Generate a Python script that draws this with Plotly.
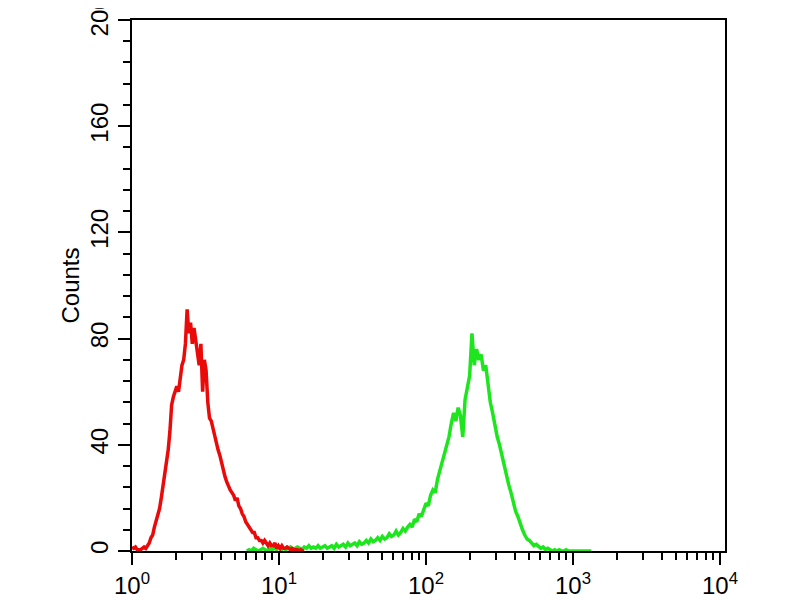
import plotly.graph_objects as go

# Channel numbers (1024-channel, 4-decade log scale: 256 channels per decade)
red_channels = list(range(0, 301, 3))
red_counts = [
    1.5, 1, 1.5, 0.5, 0.5, 0.5, 1, 1.5, 1, 2,
    3, 5, 6, 9, 11, 14, 16, 20, 24, 28,
    32, 38, 45, 55, 58, 60, 62, 60, 66, 70,
    72, 78, 91, 82, 86, 78, 84, 80, 74, 70,
    78, 60, 72, 68, 56, 50, 49, 46, 44, 40,
    38, 36, 33, 30, 28, 26, 24, 23, 22, 21,
    19, 20, 17, 16, 14, 13, 11, 10, 9, 8,
    7, 7, 5, 5, 4, 4, 3, 4, 3, 2,
    3, 2, 2, 3, 1, 2, 1, 2, 1, 1,
    1.5, 1, 0.5, 1, 0.5, 0.5, 0.5, 0, 0.5, 0,
    0,
]

green_channels = list(range(200, 801, 4))
green_counts = [
    0, 0.5, 0, 1, 0.5, 0, 0.5, 1, 0.5, 0,
    1, 0.5, 1, 0.5, 1.5, 0.5, 1, 0.5, 1, 1.5,
    0.5, 1, 1.5, 1, 0.5, 1.5, 1, 2, 1, 1.5,
    1, 2, 1, 1.5, 2, 1, 1.5, 2, 1, 2.5,
    1.5, 2, 2.5, 1.5, 3, 2, 2.5, 3, 2, 3.5,
    2.5, 3, 4, 3, 4.5, 3.5, 4, 5, 4, 5.5,
    4.5, 5, 6.5, 5.5, 6, 7.5, 6, 7, 8.5, 7.5,
    9, 10, 9, 12, 11, 14, 13, 16, 18, 17,
    21, 23, 22, 27, 30, 33, 36, 40, 43, 48,
    52, 49, 54, 51, 43, 57, 62, 66, 82, 70,
    76, 72, 74, 68, 70, 62, 56, 52, 47, 43,
    40, 36, 32, 29, 25, 22, 18, 15, 13, 10,
    8, 6, 4.5, 4, 3, 2, 2.5, 1.5, 1, 1.5,
    0.5, 1, 0.5, 0, 0.5, 0, 0.5, 0, 0, 0.5,
    0, 0, 0, 0, 0, 0, 0, 0, 0, 0,
    0,
]

x_major = [1, 10, 100, 1000, 10000]
x_major_text = ["10<sup>0</sup>", "10<sup>1</sup>", "10<sup>2</sup>", "10<sup>3</sup>", "10<sup>4</sup>"]
x_minor = [m * d for d in [1, 10, 100, 1000] for m in range(2, 10)]
y_major = [0, 40, 80, 120, 160, 200]

CH_PER_DECADE = 256.0
red_x = [10 ** (c / CH_PER_DECADE) for c in red_channels]
green_x = [10 ** (c / CH_PER_DECADE) for c in green_channels]

fig = go.Figure()
fig.add_trace(go.Scatter(x=green_x, y=green_counts, mode="lines",
                         line=dict(color="rgb(30,230,30)", width=3.5), showlegend=False))
fig.add_trace(go.Scatter(x=red_x, y=red_counts, mode="lines",
                         line=dict(color="rgb(235,10,10)", width=3.5), showlegend=False))

font = dict(family="Liberation Sans, Arial, sans-serif", size=24, color="black")

fig.update_layout(
    width=792, height=592,
    margin=dict(l=124, r=75, t=12, b=49),
    paper_bgcolor="white", plot_bgcolor="white",
    font=font,
    xaxis=dict(
        type="log", range=[0, 4.034], automargin=False,
        tickmode="array", tickvals=x_major, ticktext=x_major_text,
        ticks="outside", ticklen=12, tickwidth=2, tickcolor="black",
        ticklabeloverflow="allow",
        minor=dict(tickmode="array", tickvals=x_minor, ticks="outside",
                   ticklen=7, tickwidth=2, tickcolor="black", showgrid=False),
        showline=True, linewidth=2, linecolor="black", mirror=True,
        showgrid=False, zeroline=False, tickfont=font,
    ),
    yaxis=dict(
        range=[0, 200], automargin=False,
        tickmode="array", tickvals=y_major, tickangle=-90,
        ticks="outside", ticklen=12, tickwidth=2, tickcolor="black",
        ticklabeloverflow="allow",
        minor=dict(tickmode="linear", tick0=0, dtick=8, ticks="outside",
                   ticklen=7, tickwidth=2, tickcolor="black", showgrid=False),
        showline=True, linewidth=2, linecolor="black", mirror=True,
        showgrid=False, zeroline=False, tickfont=font,
        title=dict(text="Counts", font=font, standoff=0),
    ),
)

fig.write_html("out.html")
